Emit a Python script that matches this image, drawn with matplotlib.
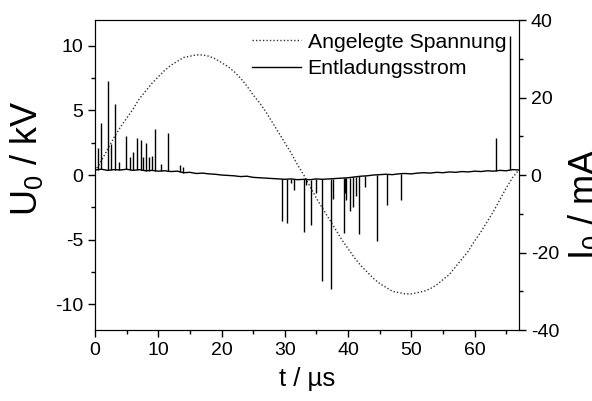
import numpy as np
import matplotlib
matplotlib.use('Agg')
import matplotlib.pyplot as plt
from matplotlib.ticker import MultipleLocator
from matplotlib.lines import Line2D

plt.rcParams['font.family'] = ['Liberation Sans', 'DejaVu Sans']
plt.rcParams['axes.unicode_minus'] = False
plt.rcParams['mathtext.fontset'] = 'custom'
plt.rcParams['mathtext.rm'] = 'Liberation Sans'

# applied voltage (kV), sampled every 1 µs
t_volt = np.arange(0, 68)
u_volt = [0.3, 1.1, 2.0, 2.9, 3.7, 4.4, 5.1, 5.9, 6.5, 7.1,
          7.6, 8.1, 8.5, 8.8, 9.1, 9.2, 9.3, 9.3, 9.2, 9.0,
          8.7, 8.4, 8.0, 7.5, 6.9, 6.2, 5.6, 4.9, 4.1, 3.3,
          2.5, 1.7, 0.8, 0.0, -0.9, -1.8, -2.6, -3.4, -4.2, -5.0,
          -5.7, -6.4, -7.0, -7.5, -8.0, -8.4, -8.7, -9.0, -9.1, -9.2,
          -9.2, -9.1, -9.0, -8.8, -8.5, -8.1, -7.7, -7.1, -6.5, -5.9,
          -5.1, -4.4, -3.6, -2.8, -1.9, -1.0, -0.2, 0.4]

# discharge current baseline (mA), sampled every 1 µs
t_base = np.arange(0, 68)
i_base = [1.3, 1.5, 1.2, 1.4, 1.3, 1.5, 1.2, 1.4, 1.1, 1.2,
          1.0, 1.1, 0.9, 1.0, 0.6, 0.7, 0.4, 0.5, 0.3, 0.2,
          0.0, -0.1, -0.2, -0.4, -0.3, -0.6, -0.7, -0.8, -0.9, -1.0,
          -1.1, -1.0, -1.2, -1.1, -1.2, -1.0, -1.1, -1.0, -0.9, -0.8,
          -0.7, -0.5, -0.3, -0.2, 0.0, 0.1, 0.2, 0.1, 0.3, 0.4,
          0.3, 0.5, 0.6, 0.5, 0.7, 0.6, 0.8, 0.7, 0.9, 0.8,
          1.0, 0.9, 1.1, 1.0, 1.2, 1.1, 1.4, 1.3]

# discharge current pulses: time (µs) and peak value (mA)
spike_t = [0.5, 0.9, 2.1, 2.5, 3.2, 3.8, 4.85, 5.6, 5.95, 6.7,
           7.2, 7.6, 8.05, 8.5, 9.0, 9.5, 10.4, 11.5, 13.5, 13.9,
           29.6, 30.4, 30.9, 31.5, 33.0, 33.4, 34.2, 35.0, 35.9, 37.3,
           37.6, 39.3, 39.5, 39.7, 40.3, 40.7, 41.2, 41.8, 42.6, 44.5,
           46.2, 48.3, 63.4, 65.6]
spike_i = [7.0, 13.5, 24.3, 8.0, 18.3, 3.4, 10.0, 4.7, 6.0, 9.6,
           9.0, 4.7, 8.2, 4.7, 5.0, 11.8, 2.8, 10.8, 2.6, 2.0,
           -11.8, -12.5, -2.0, -3.9, -14.8, -2.5, -12.8, -4.7, -27.4, -29.5,
           -6.3, -14.9, -4.7, -6.5, -9.2, -8.2, -5.5, -15.2, -3.0, -17.0,
           -7.8, -6.5, 9.5, 36.0]

fig = plt.figure(figsize=(5.92, 4.01), dpi=100)
ax = fig.add_axes([0.1605, 0.177, 0.716, 0.773])
ax2 = ax.twinx()

ax.plot(t_volt, u_volt, color='#333333', linestyle=(0, (1, 1.5)), linewidth=1.0)

ax2.plot(t_base, i_base, color='black', linewidth=1.0)
spike_base = np.interp(spike_t, t_base, i_base)
ax2.vlines(spike_t, spike_base, spike_i, color='black', linewidth=1.0)

ax.set_xlim(0, 67)
ax.set_ylim(-12, 12)
ax2.set_ylim(-40, 40)

ax.xaxis.set_major_locator(MultipleLocator(10))
ax.xaxis.set_minor_locator(MultipleLocator(5))
ax.yaxis.set_major_locator(MultipleLocator(5))
ax.yaxis.set_minor_locator(MultipleLocator(2.5))
ax2.yaxis.set_major_locator(MultipleLocator(20))
ax2.yaxis.set_minor_locator(MultipleLocator(10))

ax.tick_params(axis='both', which='major', direction='out', length=5, width=1,
               labelsize=14, top=False)
ax.tick_params(axis='both', which='minor', direction='out', length=3, width=1, top=False)
ax2.tick_params(axis='y', which='major', direction='out', length=5, width=1, labelsize=14)
ax2.tick_params(axis='y', which='minor', direction='out', length=3, width=1)

ax.set_xlabel('t / µs', fontsize=18.5, labelpad=6)
ax.set_ylabel('U$_0$ / kV', fontsize=26)
ax.yaxis.set_label_coords(-0.118, 0.555)
ax2.set_ylabel('I$_0$ / mA', fontsize=26)
ax2.yaxis.set_label_coords(1.112, 0.405)

handles = [Line2D([], [], color='#333333', linestyle=(0, (1, 1.5)), linewidth=1.0),
           Line2D([], [], color='black', linewidth=1.0)]
ax2.legend(handles, ['Angelegte Spannung', 'Entladungsstrom'], loc='upper right',
           bbox_to_anchor=(1.0, 1.0), frameon=False, fontsize=15.3, handlelength=2.3,
           handletextpad=0.3, labelspacing=0.35, borderaxespad=0.2)

fig.savefig('out.png', dpi=100)
